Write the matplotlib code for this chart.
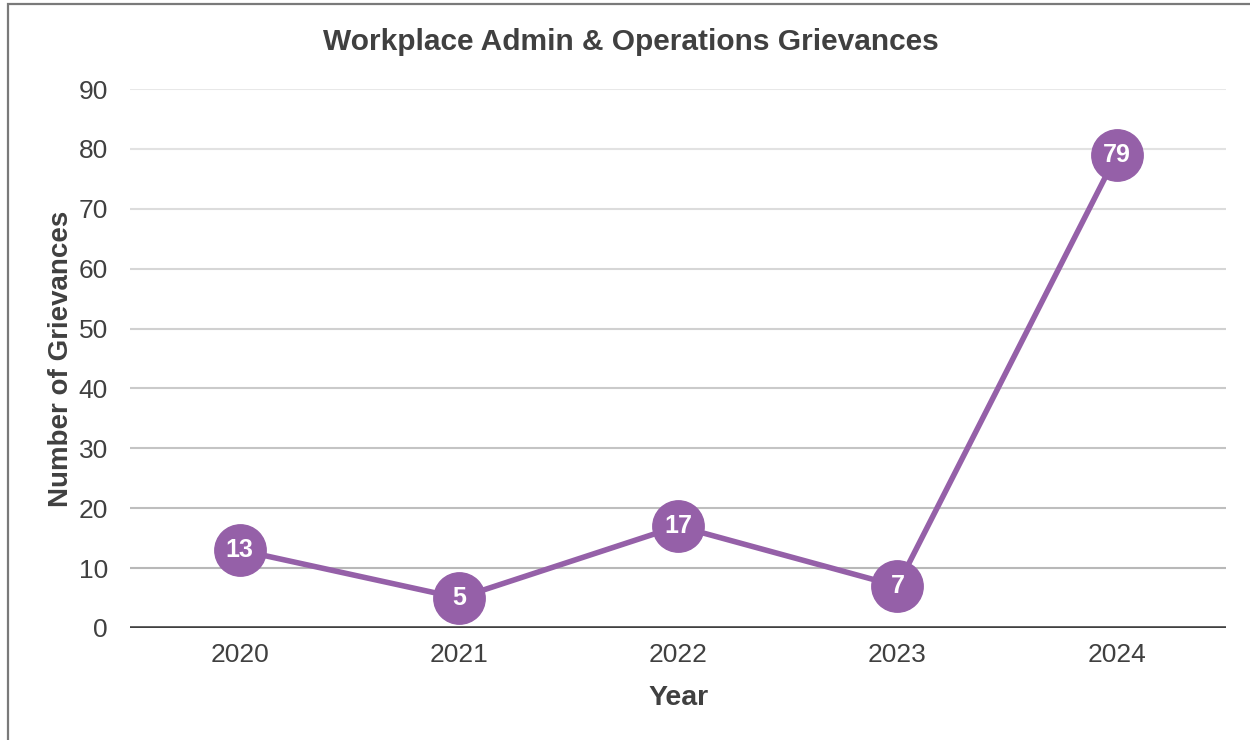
import matplotlib.pyplot as plt
from matplotlib.patches import Rectangle

years = ["2020", "2021", "2022", "2023", "2024"]
grievances = [13, 5, 17, 7, 79]
y_ticks = [0, 10, 20, 30, 40, 50, 60, 70, 80, 90]

plt.rcParams["font.family"] = ["Liberation Sans", "DejaVu Sans"]
text_color = "#404040"
purple = "#9560A8"

fig = plt.figure(figsize=(12.5, 7.4), dpi=100)
ax = fig.add_axes([0.104, 0.1514, 0.877, 0.7283])

# outer frame
fig.patches.append(Rectangle((8 / 1250, -0.1), 1.2, 1 - 4 / 740 + 0.1,
                             transform=fig.transFigure, fill=False,
                             edgecolor="#7a7a7a", linewidth=1.6))

# gridlines fade from dark near the baseline to light at the top
for t in y_ticks[1:]:
    frac = t / 90
    g = int(0xb2 + (0xe8 - 0xb2) * frac)
    ax.axhline(t, color=f"#{g:02x}{g:02x}{g:02x}", linewidth=1.5, zorder=0)
ax.axhline(0, color=text_color, linewidth=2.6, zorder=1)

x = list(range(len(years)))
ax.plot(x, grievances, color=purple, linewidth=4, marker="o",
        markersize=37, markerfacecolor=purple, markeredgecolor=purple,
        zorder=3, clip_on=False)
for xi, v in zip(x, grievances):
    ax.text(xi, v, str(v), ha="center", va="center", color="white",
            fontsize=18, fontweight="bold", zorder=4)

ax.set_xlim(-0.5, len(years) - 0.5)
ax.set_ylim(0, 90)
ax.set_xticks(x)
ax.set_xticklabels(years)
ax.set_yticks(y_ticks)
ax.tick_params(length=0, labelsize=19, colors=text_color)
ax.tick_params(axis="x", pad=11)
ax.tick_params(axis="y", pad=16)
for s in ax.spines.values():
    s.set_visible(False)

fig.text(631 / 1250, 1 - 42 / 740, "Workplace Admin & Operations Grievances",
         ha="center", va="center", fontsize=21.5, fontweight="bold",
         color=text_color)
ax.set_xlabel("Year", fontsize=20.5, fontweight="bold", color=text_color, labelpad=13)
ax.set_ylabel("Number of Grievances", fontsize=20, fontweight="bold",
              color=text_color, labelpad=3)

fig.savefig("out.png", dpi=100)
